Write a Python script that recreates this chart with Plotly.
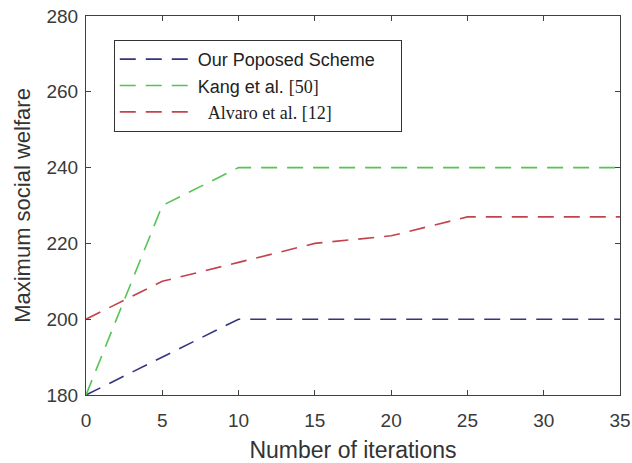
import plotly.graph_objects as go

# Social welfare vs. number of iterations for three schemes
iterations = [0, 5, 10, 15, 20, 25, 30, 35]
ours = [180, 190, 200, 200, 200, 200, 200, 200]
kang = [180, 230, 240, 240, 240, 240, 240, 240]
alvaro = [200, 210, 215, 220, 222, 227, 227, 227]

x_ticks = [0, 5, 10, 15, 20, 25, 30, 35]
y_ticks = [180, 200, 220, 240, 260, 280]

SERIF = "Liberation Serif, Times New Roman, serif"
SANS = "Liberation Sans, Arial, sans-serif"

NB = "\u00a0"
series = [
    ("Our Poposed Scheme" + NB * 4, ours, "#35357f"),
    ("Kang et al. <span style='font-family:" + SERIF + "'>[50]</span>", kang, "#55c455"),
    (NB * 2 + "<span style='font-family:" + SERIF + "'>Alvaro et al. [12]</span>", alvaro, "#c2434e"),
]

fig = go.Figure()
for name, values, color in series:
    fig.add_trace(go.Scatter(
        x=iterations, y=values, mode="lines", name=name,
        line=dict(color=color, width=1.6, dash="16px,10px"),
    ))

axis_common = dict(
    showline=True, linecolor="#404040", linewidth=1, mirror="allticks",
    ticks="inside", ticklen=5, tickcolor="#404040", showgrid=False, zeroline=False,
    tickfont=dict(family=SANS, size=19, color="#3a3a3a"), automargin=False,
)

fig.update_layout(
    width=632, height=463,
    margin=dict(l=86, r=12, t=16, b=68, autoexpand=False),
    paper_bgcolor="white", plot_bgcolor="white",
    font=dict(family=SANS, color="#3a3a3a"),
    xaxis=dict(
        range=[0, 35], tickvals=x_ticks, ticklabelstandoff=8,
        title=dict(text="Number of iterations", font=dict(family=SANS, size=23, color="#333333"), standoff=12),
        **axis_common,
    ),
    yaxis=dict(
        range=[180, 280], tickvals=y_ticks, ticklabelstandoff=3,
        title=dict(text="Maximum social welfare", font=dict(family=SANS, size=22, color="#333333"), standoff=9),
        **axis_common,
    ),
    legend=dict(
        x=0.052, y=0.937, xanchor="left", yanchor="top",
        bgcolor="white", bordercolor="#333333", borderwidth=1,
        font=dict(family=SANS, size=18, color="#222222"),
        itemwidth=73, tracegroupgap=0,
    ),
    showlegend=True,
)

fig.write_html("out.html")
